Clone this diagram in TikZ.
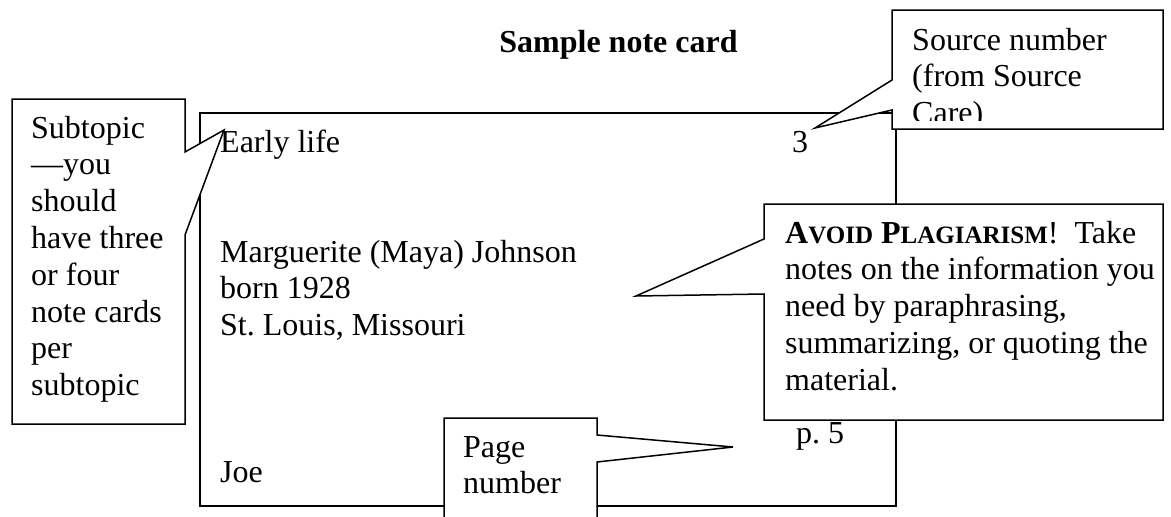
\documentclass[tikz,border=0pt]{standalone}
\usepackage{fontspec}
\setmainfont{Liberation Serif}

% fake small capitals, as a word processor sets them
\newcommand\smcap[1]{{\fontsize{25pt}{36.8pt}\selectfont #1}}
\newcommand\textlines[2]{\parbox[t]{#1}{\raggedright #2}}

\tikzset{
  outline/.style={line width=1.5pt, line join=miter},
  callout/.style={outline, fill=white},
  txt/.style={inner sep=0pt, anchor=base west, font=\fontsize{32pt}{36.8pt}\selectfont},
}

\begin{document}
\frenchspacing
\begin{tikzpicture}[x=1pt,y=-1pt]
\useasboundingbox (0,0) rectangle (1171,517);

% heading
\node[txt, anchor=base, font=\fontsize{32pt}{36.8pt}\selectfont\bfseries] (title) at (618.5,52) {Sample note card};

% the note card itself
\node[draw, outline, anchor=north west, inner sep=0pt,
      minimum width=696pt, minimum height=393pt] (card) at (199,112) {};
\node[txt] (topic)  at (220,152) {Early life};
\node[txt] (srcno)  at (792,152) {3};
\node[txt] (facts)  at (220,262) {\textlines{500pt}{Marguerite (Maya) Johnson\\born 1928\\St. Louis, Missouri}};
\node[txt] (author) at (220,482) {Joe};
\node[txt] (pageno) at (796,443) {p. 5};

% callout tips
\coordinate (subtip) at (224,130);
\coordinate (srctip) at (815,128);
\coordinate (advtip) at (636,296);
\coordinate (pgtip)  at (733,447);

% subtopic callout
\filldraw[callout] (12,99) -- (185,99) -- (185,152) -- (subtip) -- (185,235)
   -- (185,424) -- (12,424) -- cycle;
\node[txt] (subtext) at (31,138) {\textlines{200pt}{Subtopic\\—you\\should\\have three\\or four\\note cards\\per\\subtopic}};

% source number callout (text cut off at the bottom of the box)
\filldraw[callout] (892,10) -- (1163,10) -- (1163,129) -- (892,129) -- (892,110)
   -- (srctip) -- (892,80) -- cycle;
\begin{scope}
  \clip (892,10) rectangle (1163,120);
  \node[txt] (srctext) at (912,50) {\textlines{300pt}{Source number\\(from Source\\Care)}};
\end{scope}

% plagiarism callout
\filldraw[callout] (764,204) -- (1163,204) -- (1163,420) -- (764,420) -- (764,294)
   -- (advtip) -- (764,239) -- cycle;
\node[txt] (advice) at (785,243) {\textlines{450pt}{\textbf{A\smcap{VOID} P\smcap{LAGIARISM}}!\ \ Take\\notes on the information you\\need by paraphrasing,\\summarizing, or quoting the\\material.}};

% page number callout
\filldraw[callout] (444,530) -- (444,418) -- (597,418) -- (597,435) -- (pgtip)
   -- (597,462) -- (597,530) -- cycle;
\node[txt] (pgtext) at (463,457) {\textlines{200pt}{Page\\number}};

\end{tikzpicture}
\end{document}
